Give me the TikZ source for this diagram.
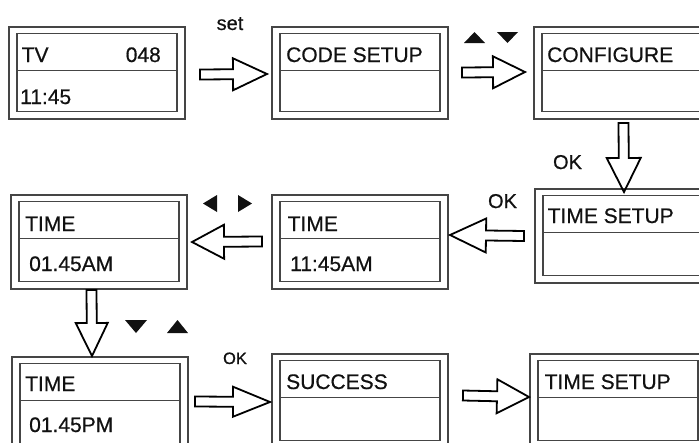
\documentclass[tikz,border=0pt]{standalone}
\usepackage{fontspec}
\setmainfont{Liberation Sans}
\newfontface\scrfont{Liberation Sans}[FakeBold=0.6]
\usetikzlibrary{calc}
\definecolor{boxgray}{HTML}{454545}
\definecolor{ink}{HTML}{111111}
\newcommand\scr[3]{%
  \node[screen, minimum height=#3] (#1) at (#2) {};
  \draw[inbox] ($(#1.north west)+(8,6.5)$) rectangle ($(#1.south east)+(-8,-7.5)$);
  \draw[inbox] ($(#1.north west)+(8,43.5)$) -- ($(#1.north east)+(-8,43.5)$);
}
\begin{document}
\begin{tikzpicture}[x=1pt,y=-1pt,
  screen/.style={draw=boxgray, line width=1.8pt, minimum width=176pt, inner sep=0pt, outer sep=0pt, anchor=north west},
  inbox/.style={draw=boxgray, line width=1.8pt},
  txt/.style={text=ink, font=\scrfont\fontsize{21}{25}\selectfont, inner sep=0pt, anchor=base west},
  txtr/.style={txt, anchor=base east},
  lab/.style={text=ink, font=\scrfont\fontsize{20}{24}\selectfont, inner sep=0pt, anchor=base},
  smalllab/.style={lab, font=\scrfont\fontsize{16.5}{20}\selectfont},
  bL/.store in=\bL, bw/.store in=\bw, bh/.store in=\bh, bL=34pt, bw=5pt, bh=16pt,
  blk/.style={draw=black, line width=1.8pt, line join=miter, to path={
    ($(\tikztostart)!\bw!90:(\tikztotarget)$)
    -- ($(\tikztotarget)!\bL!(\tikztostart)!\bw!90:(\tikztotarget)$)
    -- ($(\tikztotarget)!\bL!(\tikztostart)!\bh!90:(\tikztotarget)$)
    -- (\tikztotarget)
    -- ($(\tikztotarget)!\bL!(\tikztostart)!\bh!-90:(\tikztotarget)$)
    -- ($(\tikztotarget)!\bL!(\tikztostart)!\bw!-90:(\tikztotarget)$)
    -- ($(\tikztostart)!\bw!-90:(\tikztotarget)$) -- cycle}},
  tri/.style={fill=ink}
]
\useasboundingbox (0,0) rectangle (699,442);
\clip (0,0) rectangle (699,442);

% screens
\scr{b1}{9,27}{92}
\scr{b2}{272,27}{92}
\scr{b3}{534,27}{92}
\scr{b4}{535,189}{94}
\scr{b5}{272,195}{94}
\scr{b6}{11,195}{94}
\scr{b7}{12,357}{94}
\scr{b8}{272,354}{94}
\scr{b9}{530,354}{94}

% texts
\node[txt] (t1) at ($(b1.north west)+(12.5,35)$) {TV};
\node[txtr] (t1r) at ($(b1.north east)+(-24,35)$) {048};
\node[txt] (t1b) at ($(b1.north west)+(11,77)$) {11:45};
\node[txt] (t2) at ($(b2.north west)+(14,35)$) {CODE SETUP};
\node[txt] (t3) at ($(b3.north west)+(13,35)$) {CONFIGURE};
\node[txt] (t4) at ($(b4.north west)+(12.5,34)$) {TIME SETUP};
\node[txt] (t5) at ($(b5.north west)+(15.5,36)$) {TIME};
\node[txt] (t5b) at ($(b5.north west)+(18,76)$) {11:45AM};
\node[txt] (t6) at ($(b6.north west)+(14,36)$) {TIME};
\node[txt] (t6b) at ($(b6.north west)+(18,76)$) {01.45AM};
\node[txt] (t7) at ($(b7.north west)+(13,34)$) {TIME};
\node[txt] (t7b) at ($(b7.north west)+(17,75)$) {01.45PM};
\node[txt] (t8) at ($(b8.north west)+(14,35)$) {SUCCESS};
\node[txt] (t9) at ($(b9.north west)+(14.5,35)$) {TIME SETUP};

% arrow end points
\coordinate (a1s) at ($(b1.east)+(15,1.5)$);
\coordinate (a1t) at ($(b2.west)+(-5,1)$);
\coordinate (a2s) at ($(b2.east)+(14,-0.5)$);
\coordinate (a2t) at ($(b3.west)+(-9,-1)$);
\coordinate (a3s) at ($(b3.south)+(1.5,4)$);
\coordinate (a3t) at ($(b4.north)+(1,3)$);
\coordinate (a4s) at ($(b4.west)+(-11,0)$);
\coordinate (a4t) at ($(b5.east)+(2,-7)$);
\coordinate (a5s) at ($(b5.west)+(-10,-0.5)$);
\coordinate (a5t) at ($(b6.east)+(5,0)$);
\coordinate (a6s) at ($(b6.south)+(-7.5,1)$);
\coordinate (a6t) at ($(b7.north)+(-8,-1)$);
\coordinate (a7s) at ($(b7.east)+(7,-2.5)$);
\coordinate (a7t) at ($(b8.west)+(-2,1)$);
\coordinate (a8s) at ($(b8.east)+(15,-5.5)$);
\coordinate (a8t) at ($(b9.west)+(-1,-4)$);

\draw[blk] (a1s) to (a1t);
\draw[blk, bL=32pt] (a2s) to (a2t);
\draw[blk, bh=17pt] (a3s) to (a3t);
\draw[blk, bL=36pt, bh=17pt] (a4s) to (a4t);
\draw[blk, bL=32pt, bh=17pt] (a5s) to (a5t);
\draw[blk, bL=33pt] (a6s) to (a6t);
\draw[blk, bL=37pt, bh=15pt] (a7s) to (a7t);
\draw[blk, bL=32pt, bh=17pt] (a8s) to (a8t);

% labels
\node[lab] (lset) at (230,30) {set};
\node[lab] (lok1) at (567.5,169) {OK};
\node[lab] (lok2) at (502.5,208) {OK};
\node[smalllab] (lok3) at (235,364) {OK};

% key triangles
\fill[tri] (464,43) -- (474.5,32) -- (485,43) -- cycle;
\fill[tri] (497,32) -- (518,32) -- (507.5,43) -- cycle;
\fill[tri] (203,203.5) -- (217,195) -- (217,212) -- cycle;
\fill[tri] (238,195) -- (252,203.5) -- (238,212) -- cycle;
\fill[tri] (125,320) -- (147,320) -- (136,333) -- cycle;
\fill[tri] (167,333) -- (177.5,320) -- (188,333) -- cycle;
\end{tikzpicture}
\end{document}
